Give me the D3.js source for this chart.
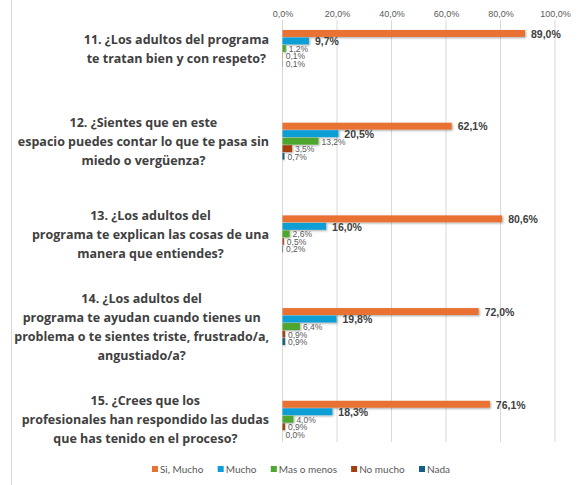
<!DOCTYPE html>
<html>
<head>
<meta charset="utf-8">
<script src="https://cdn.jsdelivr.net/npm/d3@7"></script>
<style>
  body { margin: 0; background: #fff; }
  svg { display: block; }
</style>
</head>
<body>
<svg id="chart" width="581" height="485"></svg>
<script>
const questions = ['q11', 'q12', 'q13', 'q14', 'q15'];

const questionLines = [
  ['11. ¿Los adultos del programa', 'te tratan bien y con respeto?'],
  ['12. ¿Sientes que en este', 'espacio puedes contar lo que te pasa sin', 'miedo o vergüenza?'],
  ['13. ¿Los adultos del', 'programa te explican las cosas de una', 'manera que entiendes?'],
  ['14. ¿Los adultos del', 'programa te ayudan cuando tienes un', 'problema o te sientes triste, frustrado/a,', 'angustiado/a?'],
  ['15. ¿Crees que los', 'profesionales han respondido las dudas', 'que has tenido en el proceso?'],
];

const seriesNames = ['Si, Mucho', 'Mucho', 'Mas o menos', 'No mucho', 'Nada'];
const seriesColors = ['#E97132', '#0F9ED5', '#4EA72E', '#A3400F', '#156082'];

const siMucho   = [0.890, 0.621, 0.806, 0.720, 0.761];
const mucho     = [0.097, 0.205, 0.160, 0.198, 0.183];
const masMenos  = [0.012, 0.132, 0.026, 0.064, 0.040];
const noMucho   = [0.001, 0.035, 0.005, 0.009, 0.009];
const nada      = [0.001, 0.007, 0.002, 0.009, 0.000];

const tickValues = [0, 0.2, 0.4, 0.6, 0.8, 1.0];

const allSeries = [siMucho, mucho, masMenos, noMucho, nada];
const rows = questions.map((q, i) => ({
  q,
  lines: questionLines[i],
  values: seriesNames.map((name, s) => ({ name, s, v: allSeries[s][i] })),
}));

const fmt = v => d3.format('.1f')(v * 100).replace('.', ',') + '%';

const svg = d3.select('#chart');

const defs = svg.append('defs');
defs.append('filter')
    .attr('id', 'shadow')
    .attr('x', '-10%').attr('y', '-30%')
    .attr('width', '130%').attr('height', '200%')
  .append('feDropShadow')
    .attr('dx', 1).attr('dy', 1)
    .attr('stdDeviation', 0.8)
    .attr('flood-color', '#000')
    .attr('flood-opacity', 0.35);

// frame line on the left
svg.append('line')
    .attr('x1', 11.5).attr('x2', 11.5)
    .attr('y1', 0).attr('y2', 485)
    .attr('stroke', '#d9d9d9');

const x = d3.scaleLinear().domain([0, 1]).range([282.5, 555]);
const y = d3.scaleBand().domain(questions).range([2.4, 465.9]);
const yInner = d3.scaleBand().domain(seriesNames).range([0, 37.5]);

// gridlines + top axis
svg.append('g').selectAll('line')
  .data(tickValues)
  .join('line')
    .attr('x1', d => x(d)).attr('x2', d => x(d))
    .attr('y1', 20).attr('y2', 442)
    .attr('stroke', '#d9d9d9')
    .attr('stroke-width', 1);

const axis = d3.axisTop(x)
  .tickValues(tickValues)
  .tickSize(0)
  .tickPadding(0)
  .tickFormat(fmt);

svg.append('g')
    .attr('transform', 'translate(0,17)')
    .call(axis)
    .call(g => g.select('.domain').remove())
    .call(g => g.selectAll('text')
      .attr('fill', '#595959')
      .style('font', '9px "Liberation Sans", Arial, sans-serif'));

// bars
const group = svg.append('g').selectAll('g')
  .data(rows)
  .join('g')
    .attr('transform', d => `translate(0,${y(d.q) + (y.bandwidth() - 37.5) / 2})`);

group.selectAll('rect')
  .data(d => d.values)
  .join('rect')
    .attr('x', x(0))
    .attr('y', d => yInner(d.name))
    .attr('width', d => x(d.v) - x(0))
    .attr('height', yInner.bandwidth() - 0.6)
    .attr('fill', d => seriesColors[d.s])
    .attr('filter', 'url(#shadow)');

group.selectAll('text.val')
  .data(d => d.values)
  .join('text')
    .attr('class', 'val')
    .attr('x', d => x(d.v) + (d.s < 2 ? 6 : 3))
    .attr('y', d => yInner(d.name) + yInner.bandwidth() / 2)
    .attr('dy', '0.38em')
    .attr('fill', d => d.s < 2 ? '#404040' : '#595959')
    .style('font', d => d.s < 2
      ? 'bold 10.5px "Liberation Sans", Arial, sans-serif'
      : '8.5px "Liberation Sans", Arial, sans-serif')
    .text(d => fmt(d.v));

// category labels: block right aligned to axis, lines centered in block
const labelRight = 269;
const lineH = 19;
const labels = svg.append('g').selectAll('g')
  .data(rows)
  .join('g');

labels.each(function(d) {
  const g = d3.select(this);
  const cy = y(d.q) + y.bandwidth() / 2;
  const top = cy - (d.lines.length - 1) * lineH / 2;
  const texts = g.selectAll('text')
    .data(d.lines)
    .join('text')
      .attr('y', (l, i) => top + i * lineH)
      .attr('dy', '0.36em')
      .attr('text-anchor', 'middle')
      .attr('fill', '#404040')
      .style('font', 'bold 12.5px "Open Sans", "Noto Sans", sans-serif')
      .text(l => l);
  let w = 0;
  texts.each(function() { w = Math.max(w, this.getComputedTextLength()); });
  texts.attr('x', labelRight - w / 2);
});

// legend
const legend = svg.append('g').attr('transform', 'translate(0,469)');
const items = legend.selectAll('g')
  .data(seriesNames)
  .join('g');
items.append('rect')
    .attr('y', -3)
    .attr('width', 6).attr('height', 6)
    .attr('fill', (d, i) => seriesColors[i]);
items.append('text')
    .attr('x', 8)
    .attr('dy', '0.35em')
    .attr('fill', '#595959')
    .style('font', '10px Lato, "Liberation Sans", sans-serif')
    .text(d => d);
const widths = [];
items.each(function() { widths.push(this.getBBox().width); });
const gap = 14;
const total = d3.sum(widths) + gap * (widths.length - 1);
let lx = 301 - total / 2;
items.attr('transform', (d, i) => {
  const t = `translate(${lx},0)`;
  lx += widths[i] + gap;
  return t;
});
</script>
</body>
</html>
